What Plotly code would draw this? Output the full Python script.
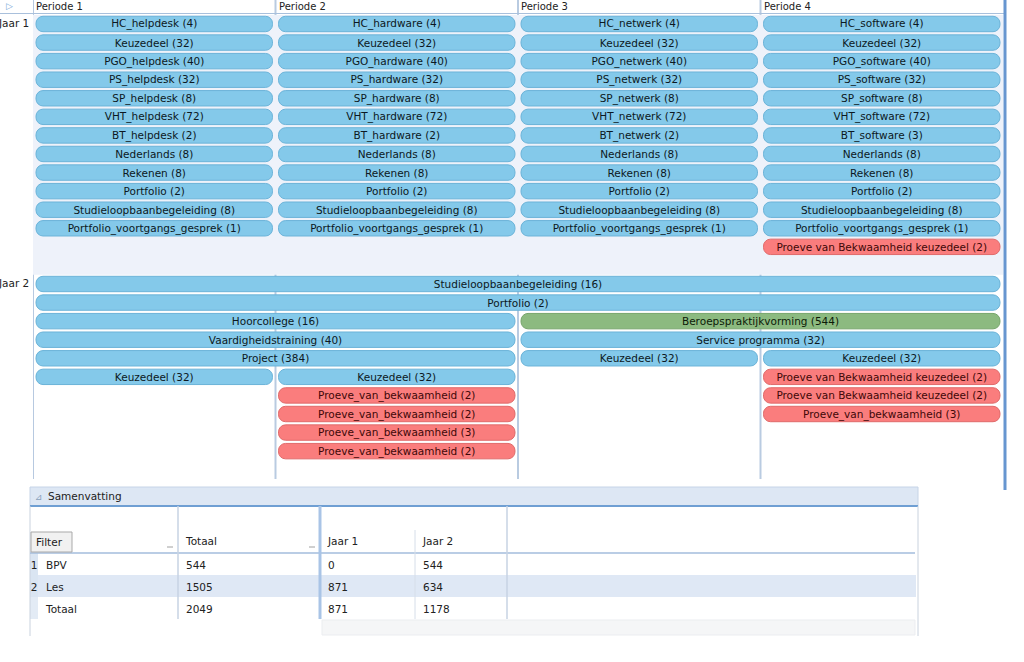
import plotly.graph_objects as go

# ---------------- data ----------------
periods = ["Periode 1", "Periode 2", "Periode 3", "Periode 4"]
years = ["Jaar 1", "Jaar 2"]

# Jaar 1: same modules in every period, topic per period
j1_topics = ["helpdesk", "hardware", "netwerk", "software"]
j1_modules = ["HC_{}", "Keuzedeel", "PGO_{}", "PS_{}", "SP_{}", "VHT_{}", "BT_{}",
              "Nederlands", "Rekenen", "Portfolio", "Studieloopbaanbegeleiding",
              "Portfolio_voortgangs_gesprek"]
j1_hours = [4, 32, 40, 32, 8, 72, None, 8, 8, 2, 8, 1]
j1_bt_hours = [2, 2, 2, 3]
j1_extra_labels = ["Proeve van Bekwaamheid keuzedeel"]
j1_extra_hours = [2]
j1_extra_period = [3]
j1_extra_slot = [12]
j1_extra_kind = ["proeve"]

# Jaar 2: label, hours, slot, start period, end period, kind
j2_labels = ["Studieloopbaanbegeleiding", "Portfolio", "Hoorcollege", "Beroepspraktijkvorming",
             "Vaardigheidstraining", "Service programma", "Project", "Keuzedeel", "Keuzedeel",
             "Keuzedeel", "Keuzedeel", "Proeve van Bekwaamheid keuzedeel",
             "Proeve_van_bekwaamheid", "Proeve van Bekwaamheid keuzedeel",
             "Proeve_van_bekwaamheid", "Proeve_van_bekwaamheid",
             "Proeve_van_bekwaamheid", "Proeve_van_bekwaamheid"]
j2_hours = [16, 2, 16, 544, 40, 32, 384, 32, 32, 32, 32, 2, 2, 2, 2, 3, 3, 2]
j2_slot = [0, 1, 2, 2, 3, 3, 4, 4, 4, 5, 5, 5, 6, 6, 7, 7, 8, 9]
j2_start = [0, 0, 0, 2, 0, 2, 0, 2, 3, 0, 1, 3, 1, 3, 1, 3, 1, 1]
j2_end = [4, 4, 2, 4, 2, 4, 2, 3, 4, 1, 2, 4, 2, 4, 2, 4, 2, 2]
j2_kind = ["les", "les", "les", "bpv", "les", "les", "les", "les", "les",
           "les", "les", "proeve", "proeve", "proeve", "proeve", "proeve", "proeve", "proeve"]

# summary table
table_cols = ["Totaal", "Jaar 1", "Jaar 2"]
table_rows = ["BPV", "Les", "Totaal"]
table_totaal = [544, 1505, 2049]
table_jaar1 = [0, 871, 871]
table_jaar2 = [544, 634, 1178]
table_rownum = ["1", "2", ""]

# ---------------- styling helpers ----------------
W, H = 1024, 662
FONT = "DejaVu Sans"
def px(x):
    return x / W
def py(y):
    return 1 - y / H

PAD = 0.0124           # gap between bar and period border (period units)
J1_ROWS = 14           # slots in Jaar 1 section (13 used + 1 blank)
J2_OFFSET = J1_ROWS
J2_ROWS = 11
TOTAL_ROWS = J1_ROWS + J2_ROWS

STYLE = {
    "les": dict(fill="#84c9ea", line="#6bb3d8", text="#0c1822"),
    "bpv": dict(fill="#8cba80", line="#76a56b", text="#0c1a08"),
    "proeve": dict(fill="#fa7d7d", line="#e06a6a", text="#400808"),
}

# ---------------- collect bars ----------------
bars = {k: dict(y=[], base=[], x=[], text=[]) for k in STYLE}

def add_bar(kind, slot, start, end, label, hours):
    b = bars[kind]
    b["y"].append(slot)
    b["base"].append(start + PAD)
    b["x"].append(end - start - 2 * PAD)
    b["text"].append(f"{label} ({hours})")

for p, topic in enumerate(j1_topics):
    for r, (m, h) in enumerate(zip(j1_modules, j1_hours)):
        hours = j1_bt_hours[p] if h is None else h
        add_bar("les", r, p, p + 1, m.format(topic), hours)
for lab, h, p, s, k in zip(j1_extra_labels, j1_extra_hours, j1_extra_period, j1_extra_slot, j1_extra_kind):
    add_bar(k, s, p, p + 1, lab, h)
for lab, h, s, a, e, k in zip(j2_labels, j2_hours, j2_slot, j2_start, j2_end, j2_kind):
    add_bar(k, s + J2_OFFSET, a, e, lab, h)

fig = go.Figure()
for kind, b in bars.items():
    st = STYLE[kind]
    fig.add_trace(go.Bar(
        orientation="h", y=b["y"], x=b["x"], base=b["base"], text=b["text"],
        width=0.83, marker=dict(color=st["fill"], line=dict(color=st["line"], width=1)),
        textposition="inside", insidetextanchor="middle", constraintext="none",
        textangle=0, textfont=dict(family=FONT, size=10.5, color=st["text"]),
        hoverinfo="skip", showlegend=False, cliponaxis=False,
    ))

# ---------------- summary table ----------------
hl = "#dfe8f5"
row_fill = ["white", hl, "white"]
fig.add_trace(go.Table(
    domain=dict(x=[px(30), px(916)], y=[py(645), py(529)]),
    columnwidth=[8, 140, 142, 95, 92, 409],
    header=dict(values=["", ""] + table_cols + [""],
                height=24, fill_color="white", line=dict(width=0, color="white"),
                align="left", font=dict(family=FONT, size=10.5, color="#222")),
    cells=dict(values=[table_rownum, table_rows, table_totaal, table_jaar1, table_jaar2, [""] * 3],
               height=22,
               fill_color=[["#dae5f2", "#dae5f2", "#e3ebf5"], row_fill, row_fill, row_fill, row_fill, row_fill],
               line=dict(width=0, color="white"),
               align=["center", "left", "left", "left", "left", "left"],
               font=dict(family=FONT, size=10.5, color="#222")),
))

# ---------------- layout decorations ----------------
shapes = []
# Jaar 1 section background
shapes.append(dict(type="rect", xref="x", yref="y", x0=0, x1=4, y0=-0.5, y1=J1_ROWS - 0.5,
                   fillcolor="#eef2fa", line=dict(width=0), layer="below"))
# period boundaries
for i in range(4):
    shapes.append(dict(type="line", xref="x", yref="paper", x0=i, x1=i, y0=py(0), y1=py(479),
                       line=dict(color="#9fb7d6" if i == 0 else "#b9cbe1", width=1.5 if i == 0 else 2),
                       layer="below"))
# header bottom line
shapes.append(dict(type="line", xref="paper", yref="paper", x0=0, x1=px(1004), y0=py(13.5), y1=py(13.5),
                   line=dict(color="#a9c0dc", width=1.2), layer="below"))
# right edge
shapes.append(dict(type="line", xref="paper", yref="paper", x0=px(1005), x1=px(1005), y0=py(0), y1=py(490),
                   line=dict(color="#6796d0", width=3)))

# table panel
shapes += [
    dict(type="rect", xref="paper", yref="paper", x0=px(30), x1=px(918), y0=py(506), y1=py(487),
         fillcolor="#dde7f4", line=dict(color="#c6d4e7", width=1)),
    dict(type="line", xref="paper", yref="paper", x0=px(30), x1=px(918), y0=py(506), y1=py(506),
         line=dict(color="#6f9fd3", width=2)),
    dict(type="line", xref="paper", yref="paper", x0=px(30), x1=px(30), y0=py(506), y1=py(636),
         line=dict(color="#c9d2de", width=1)),
    dict(type="line", xref="paper", yref="paper", x0=px(918), x1=px(918), y0=py(506), y1=py(636),
         line=dict(color="#c9d2de", width=1)),
    dict(type="line", xref="paper", yref="paper", x0=px(30), x1=px(915), y0=py(553), y1=py(553),
         line=dict(color="#a3bddc", width=1.5)),
    dict(type="line", xref="paper", yref="paper", x0=px(178), x1=px(178), y0=py(506), y1=py(619),
         line=dict(color="#c7d3e3", width=1.5)),
    dict(type="line", xref="paper", yref="paper", x0=px(320), x1=px(320), y0=py(506), y1=py(619),
         line=dict(color="#a9c4e6", width=3)),
    dict(type="line", xref="paper", yref="paper", x0=px(415), x1=px(415), y0=py(530), y1=py(619),
         line=dict(color="#d6dee9", width=1)),
    dict(type="line", xref="paper", yref="paper", x0=px(507), x1=px(507), y0=py(506), y1=py(619),
         line=dict(color="#c7d3e3", width=1.5)),
    dict(type="rect", xref="paper", yref="paper", x0=px(322), x1=px(915), y0=py(635), y1=py(620),
         fillcolor="#f5f6f7", line=dict(color="#ebedf0", width=1)),
    dict(type="rect", xref="paper", yref="paper", x0=px(31), x1=px(72), y0=py(552), y1=py(532),
         fillcolor="#f1f1f1", line=dict(color="#a9a9a9", width=1)),
    dict(type="line", xref="paper", yref="paper", x0=px(167), x1=px(173), y0=py(547), y1=py(547),
         line=dict(color="#a0a0a0", width=1)),
    dict(type="line", xref="paper", yref="paper", x0=px(309), x1=px(315), y0=py(547), y1=py(547),
         line=dict(color="#a0a0a0", width=1)),
]

annotations = []
for i, name in enumerate(periods):
    annotations.append(dict(x=i, xref="x", y=py(6), yref="paper", text=name, showarrow=False,
                            xanchor="left", yanchor="middle", xshift=1,
                            font=dict(family=FONT, size=10, color="#222")))
for name, top in zip(years, [-0.5, J1_ROWS - 0.5]):
    annotations.append(dict(x=0, xref="x", y=top, yref="y", text=name, showarrow=False,
                            xanchor="right", yanchor="top", xshift=-2,
                            font=dict(family=FONT, size=10.5, color="#222")))
annotations += [
    dict(x=px(4), y=py(6), xref="paper", yref="paper", text="▷", showarrow=False,
         xanchor="left", yanchor="middle", font=dict(family=FONT, size=9, color="#7aa7d8")),
    dict(x=px(33), y=py(497), xref="paper", yref="paper", text="⊿", showarrow=False,
         xanchor="left", yanchor="middle", font=dict(family=FONT, size=9, color="#8aa0bb")),
    dict(x=px(46), y=py(496), xref="paper", yref="paper", text="Samenvatting", showarrow=False,
         xanchor="left", yanchor="middle", font=dict(family=FONT, size=10.5, color="#222")),
    dict(x=px(34), y=py(542), xref="paper", yref="paper", text="Filter", showarrow=False,
         xanchor="left", yanchor="middle", font=dict(family=FONT, size=10.5, color="#222")),
]

fig.update_layout(
    width=W, height=H, margin=dict(l=0, r=0, t=0, b=0),
    paper_bgcolor="white", plot_bgcolor="white",
    barmode="overlay", barcornerradius=7,
    uniformtext=dict(minsize=10.5, mode="show"),
    xaxis=dict(range=[0, 4], domain=[px(33), px(1003)], visible=False, fixedrange=True),
    yaxis=dict(range=[TOTAL_ROWS - 0.5, -0.5], domain=[py(479), py(14.7)], visible=False, fixedrange=True),
    shapes=shapes, annotations=annotations, showlegend=False,
)

# the page's default body margin would push the figure 8px off; remove it
fig.write_html("out.html", config={"displayModeBar": False},
               post_script="document.body.style.margin='0';document.body.style.overflow='hidden';")
